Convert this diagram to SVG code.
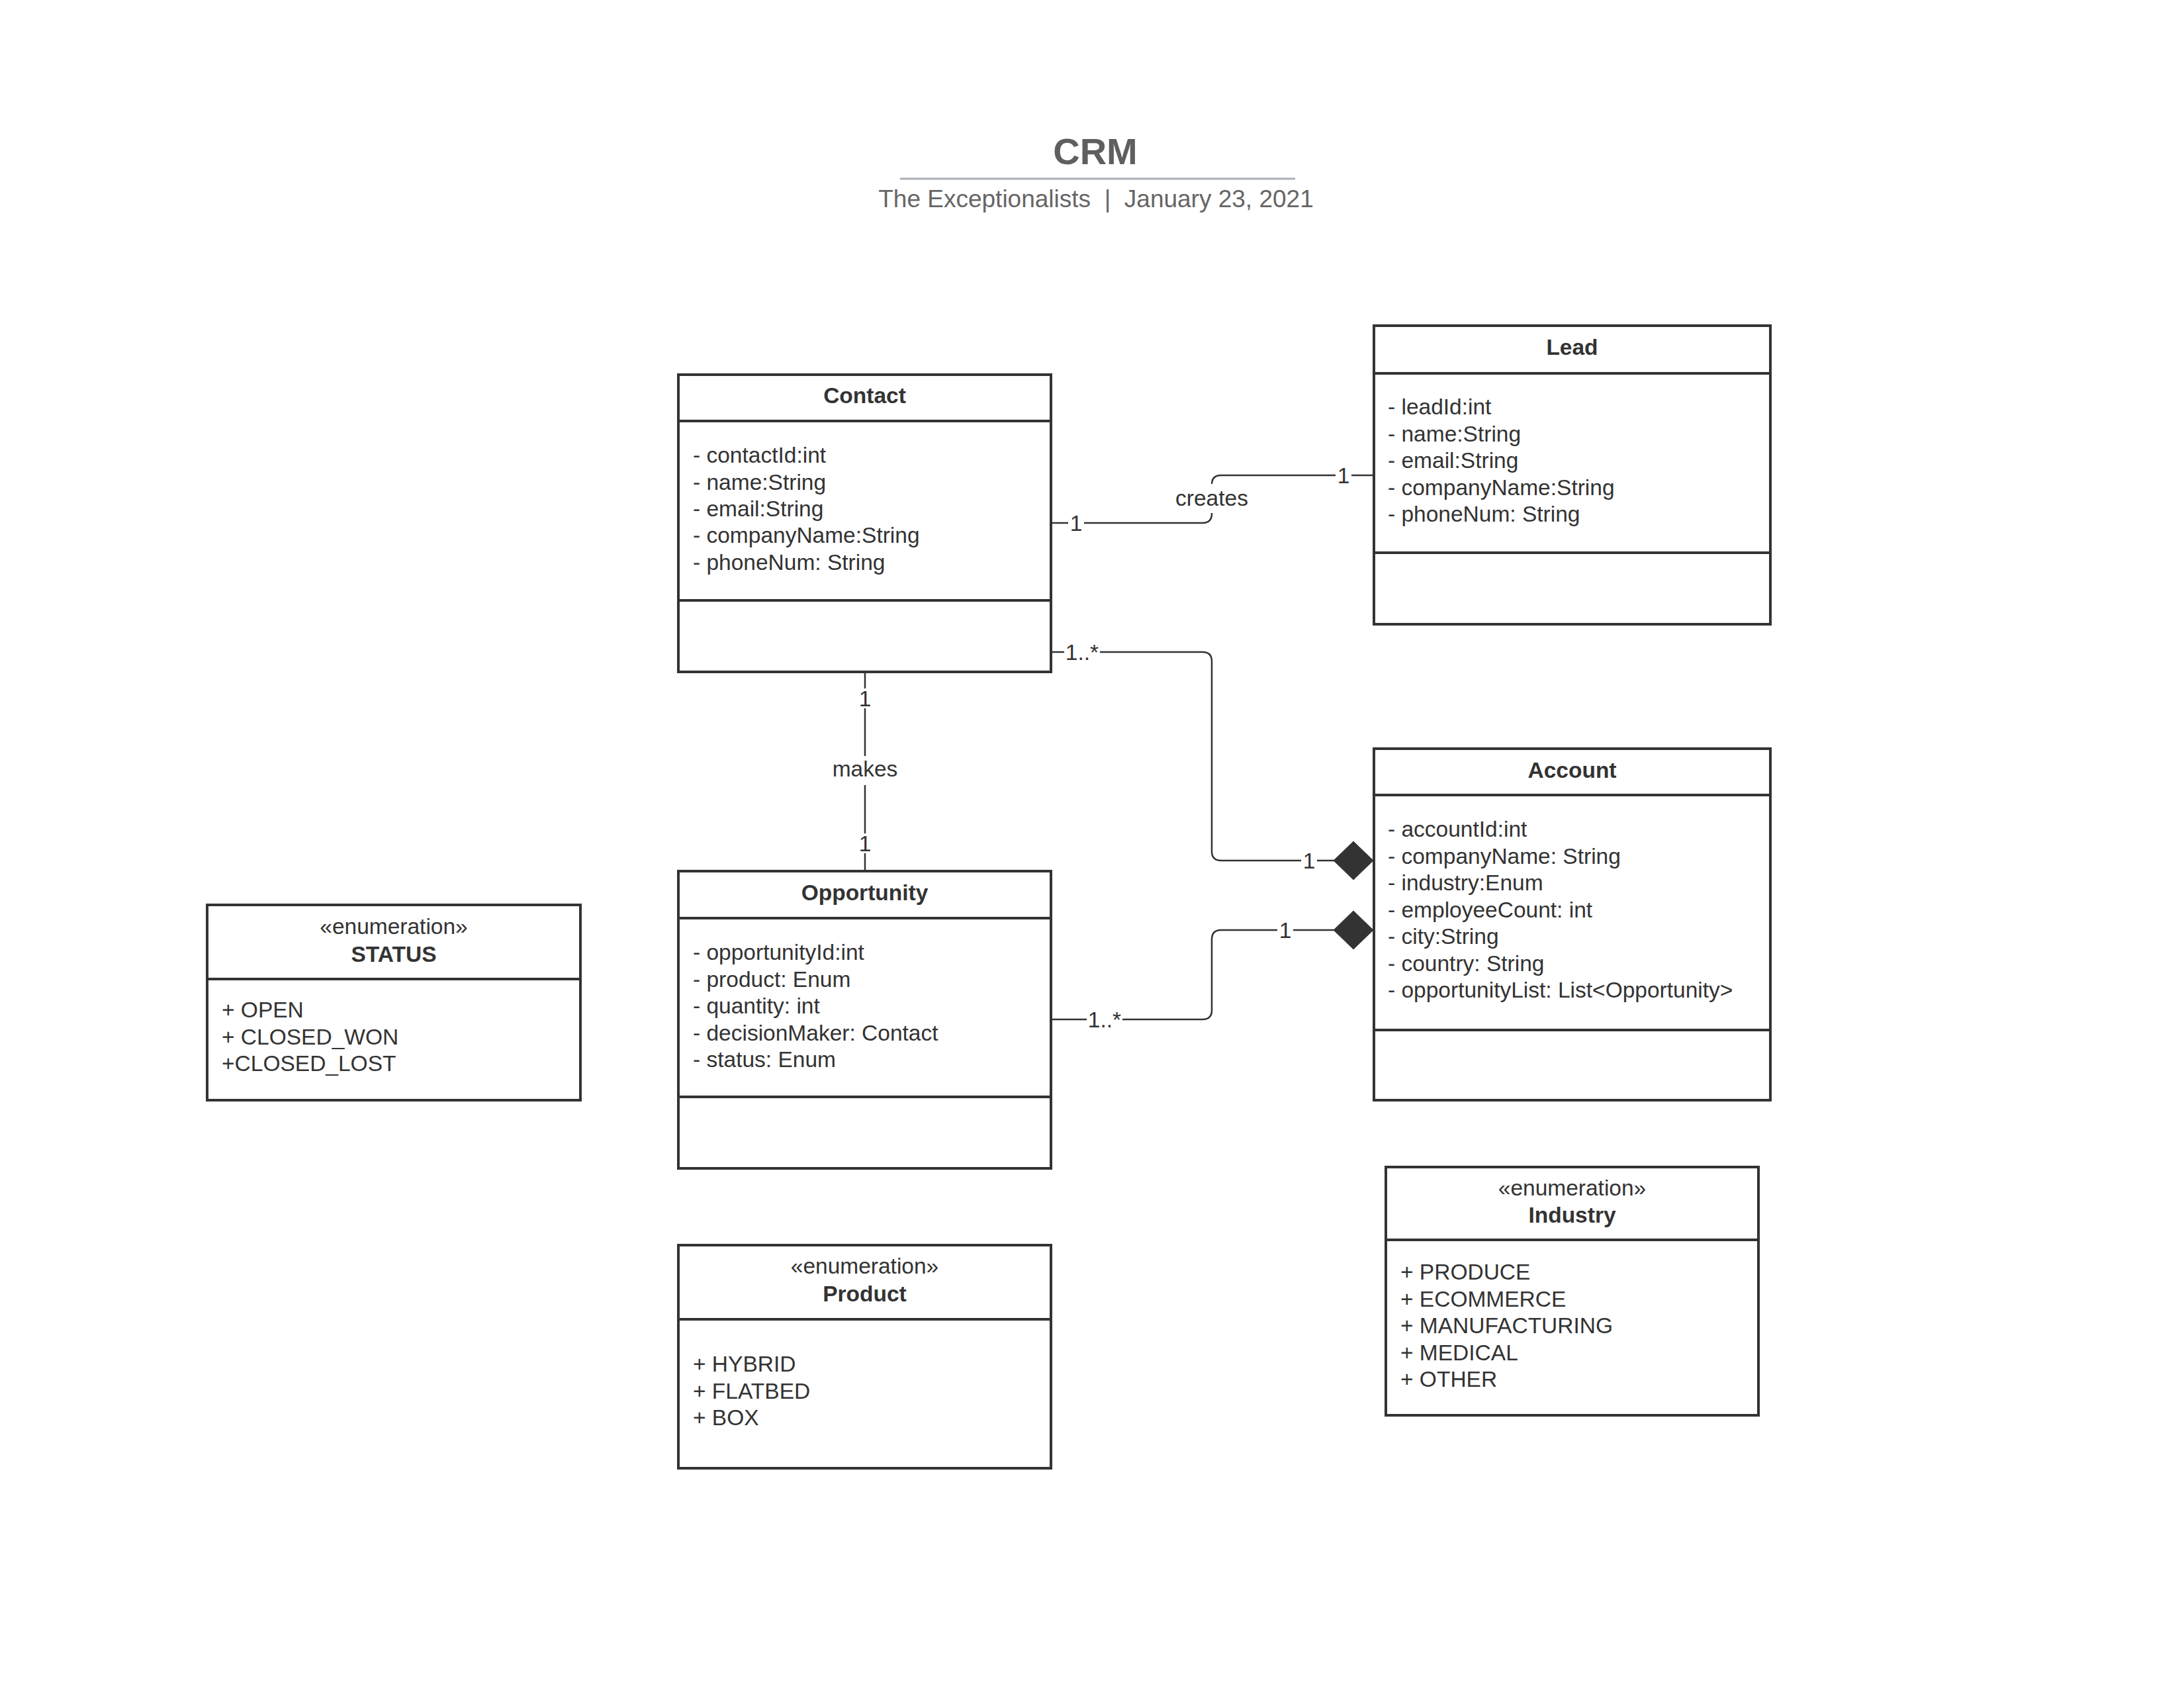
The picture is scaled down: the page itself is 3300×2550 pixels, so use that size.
<svg xmlns="http://www.w3.org/2000/svg" width="3300" height="2550" viewBox="0 0 3300 2550">
<style>
  text { font-family: "Liberation Sans", Arial, sans-serif; fill: #333333; }
  .box { fill: #ffffff; stroke: #333333; stroke-width: 4; }
  .sep { stroke: #333333; stroke-width: 4; }
  .title { font-size: 33.5px; font-weight: bold; text-anchor: middle; }
  .attr { font-size: 33.5px; }
  .stereo { font-size: 33.5px; text-anchor: middle; }
  .conn { fill: none; stroke: #333333; stroke-width: 2.5; }
  .lbl { font-size: 33.5px; text-anchor: middle; }
  .lblbg { fill: #ffffff; }
  .diamond { fill: #333333; stroke: #333333; stroke-width: 1; }
</style>
<rect width="3300" height="2550" fill="#ffffff"/>

<g id="header">
  <text x="1655" y="248" font-size="56" font-weight="bold" text-anchor="middle" style="fill:#5f5f5f">CRM</text>
  <line x1="1360" y1="270" x2="1957" y2="270" stroke="#a9aeb6" stroke-width="3"/>
  <text x="1656" y="313" font-size="37" text-anchor="middle" style="fill:#666666" xml:space="preserve">The Exceptionalists  |  January 23, 2021</text>
</g>

<g id="connectors">
  <path class="conn" d="M1588,790 H1817 Q1831,790 1831,776 V732 Q1831,718 1845,718 H2076"/>
  <path class="conn" d="M1588,985 H1817 Q1831,985 1831,999 V1286 Q1831,1300 1845,1300 H2016"/>
  <path class="conn" d="M1588,1540 H1817 Q1831,1540 1831,1526 V1419 Q1831,1405 1845,1405 H2016"/>
  <path class="conn" d="M1307,1015 V1316"/>
  <polygon class="diamond" points="2015,1300 2045,1271 2075,1300 2045,1329"/>
  <polygon class="diamond" points="2015,1405 2045,1376 2075,1405 2045,1434"/>

  <rect class="lblbg" x="1776" y="731" width="110" height="44"/>
  <text class="lbl" x="1831" y="764">creates</text>
  <rect class="lblbg" x="1614" y="774" width="24" height="32"/>
  <text class="lbl" x="1626" y="802">1</text>
  <rect class="lblbg" x="2018" y="702" width="24" height="32"/>
  <text class="lbl" x="2030" y="730">1</text>

  <rect class="lblbg" x="1608" y="969" width="54" height="32"/>
  <text class="lbl" x="1635" y="997">1..*</text>
  <rect class="lblbg" x="1966" y="1284" width="24" height="32"/>
  <text class="lbl" x="1978" y="1312">1</text>

  <rect class="lblbg" x="1642" y="1524" width="54" height="32"/>
  <text class="lbl" x="1669" y="1552">1..*</text>
  <rect class="lblbg" x="1930" y="1389" width="24" height="32"/>
  <text class="lbl" x="1942" y="1417">1</text>

  <rect class="lblbg" x="1295" y="1040" width="24" height="30"/>
  <text class="lbl" x="1307" y="1067">1</text>
  <rect class="lblbg" x="1255" y="1142" width="104" height="44"/>
  <text class="lbl" x="1307" y="1173">makes</text>
  <rect class="lblbg" x="1295" y="1259" width="24" height="30"/>
  <text class="lbl" x="1307" y="1286">1</text>
</g>

<g id="contact">
  <rect class="box" x="1025" y="566" width="563" height="449"/>
  <line class="sep" x1="1025" y1="636" x2="1588" y2="636"/>
  <line class="sep" x1="1025" y1="907" x2="1588" y2="907"/>
  <text class="title" x="1306.5" y="609">Contact</text>
  <text class="attr" x="1047" y="699">- contactId:int</text>
  <text class="attr" x="1047" y="739.5">- name:String</text>
  <text class="attr" x="1047" y="780">- email:String</text>
  <text class="attr" x="1047" y="820">- companyName:String</text>
  <text class="attr" x="1047" y="860.5">- phoneNum: String</text>
</g>

<g id="lead">
  <rect class="box" x="2076" y="492" width="599" height="451"/>
  <line class="sep" x1="2076" y1="564" x2="2675" y2="564"/>
  <line class="sep" x1="2076" y1="835" x2="2675" y2="835"/>
  <text class="title" x="2375.5" y="536">Lead</text>
  <text class="attr" x="2097" y="626">- leadId:int</text>
  <text class="attr" x="2097" y="666.5">- name:String</text>
  <text class="attr" x="2097" y="707">- email:String</text>
  <text class="attr" x="2097" y="747.5">- companyName:String</text>
  <text class="attr" x="2097" y="788">- phoneNum: String</text>
</g>

<g id="account">
  <rect class="box" x="2076" y="1131" width="599" height="531"/>
  <line class="sep" x1="2076" y1="1201" x2="2675" y2="1201"/>
  <line class="sep" x1="2076" y1="1556" x2="2675" y2="1556"/>
  <text class="title" x="2375.5" y="1175">Account</text>
  <text class="attr" x="2097" y="1264">- accountId:int</text>
  <text class="attr" x="2097" y="1304.5">- companyName: String</text>
  <text class="attr" x="2097" y="1345">- industry:Enum</text>
  <text class="attr" x="2097" y="1385.5">- employeeCount: int</text>
  <text class="attr" x="2097" y="1426">- city:String</text>
  <text class="attr" x="2097" y="1466.5">- country: String</text>
  <text class="attr" x="2097" y="1507">- opportunityList: List&lt;Opportunity&gt;</text>
</g>

<g id="opportunity">
  <rect class="box" x="1025" y="1316" width="563" height="449"/>
  <line class="sep" x1="1025" y1="1387" x2="1588" y2="1387"/>
  <line class="sep" x1="1025" y1="1657" x2="1588" y2="1657"/>
  <text class="title" x="1306.5" y="1360">Opportunity</text>
  <text class="attr" x="1047" y="1450">- opportunityId:int</text>
  <text class="attr" x="1047" y="1490.5">- product: Enum</text>
  <text class="attr" x="1047" y="1531">- quantity: int</text>
  <text class="attr" x="1047" y="1571.5">- decisionMaker: Contact</text>
  <text class="attr" x="1047" y="1612">- status: Enum</text>
</g>

<g id="status">
  <rect class="box" x="313" y="1367" width="564" height="295"/>
  <line class="sep" x1="313" y1="1479" x2="877" y2="1479"/>
  <text class="stereo" x="595" y="1411">«enumeration»</text>
  <text class="title" x="595" y="1453">STATUS</text>
  <text class="attr" x="335" y="1537">+ OPEN</text>
  <text class="attr" x="335" y="1577.5">+ CLOSED_WON</text>
  <text class="attr" x="335" y="1618">+CLOSED_LOST</text>
</g>

<g id="product">
  <rect class="box" x="1025" y="1881" width="563" height="337"/>
  <line class="sep" x1="1025" y1="1993" x2="1588" y2="1993"/>
  <text class="stereo" x="1306.5" y="1924">«enumeration»</text>
  <text class="title" x="1306.5" y="1966">Product</text>
  <text class="attr" x="1047" y="2072">+ HYBRID</text>
  <text class="attr" x="1047" y="2112.5">+ FLATBED</text>
  <text class="attr" x="1047" y="2153">+ BOX</text>
</g>

<g id="industry">
  <rect class="box" x="2094" y="1763" width="563" height="375"/>
  <line class="sep" x1="2094" y1="1873" x2="2657" y2="1873"/>
  <text class="stereo" x="2375.5" y="1806">«enumeration»</text>
  <text class="title" x="2375.5" y="1847">Industry</text>
  <text class="attr" x="2116" y="1933">+ PRODUCE</text>
  <text class="attr" x="2116" y="1973.5">+ ECOMMERCE</text>
  <text class="attr" x="2116" y="2014">+ MANUFACTURING</text>
  <text class="attr" x="2116" y="2054.5">+ MEDICAL</text>
  <text class="attr" x="2116" y="2095">+ OTHER</text>
</g>
</svg>
